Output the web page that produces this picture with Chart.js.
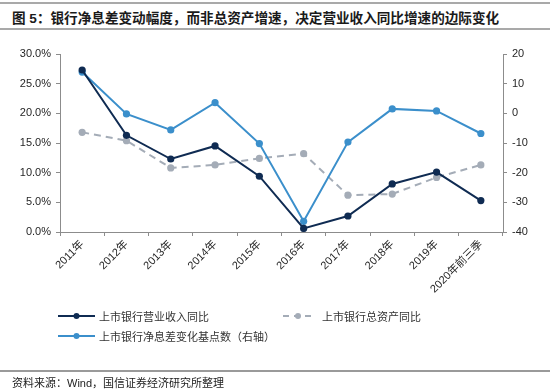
<!DOCTYPE html>
<html><head><meta charset="utf-8">
<script src="https://cdn.jsdelivr.net/npm/chart.js@4.4.1/dist/chart.umd.min.js"></script>
<style>
html,body{margin:0;padding:0;background:#fff;}
#wrap{position:relative;width:550px;height:392px;overflow:hidden;font-family:'Liberation Sans',Arial,'Noto Sans CJK SC',sans-serif;}
.rule{position:absolute;left:0;width:550px;background:#a9a9a9;}
#title{position:absolute;left:12px;top:7px;font-size:13.6px;font-weight:bold;color:#1a1a1a;white-space:nowrap;font-family:'Liberation Sans','Noto Sans CJK SC',sans-serif;}
#footer{position:absolute;left:12px;top:374px;font-size:11px;color:#222;white-space:nowrap;font-family:'Liberation Sans','Noto Sans CJK SC',sans-serif;}
.leg{position:absolute;font-size:11px;color:#333;white-space:nowrap;font-family:'Noto Sans CJK SC',sans-serif;line-height:14px;}
.leg svg{position:absolute;left:0;top:0;}
.leg span{position:absolute;top:0;}
canvas{position:absolute;left:0;top:0;}
</style>
</head><body>
<div id="wrap">
  <div class="rule" style="top:2px;height:1.5px;"></div>
  <div id="title">图 5：银行净息差变动幅度，而非总资产增速，决定营业收入同比增速的边际变化</div>
  <div class="rule" style="top:28px;height:1.5px;"></div>
  <canvas id="c" width="550" height="392"></canvas>
  <div id="legend"></div>
  <div class="rule" style="top:370px;height:2px;background:#9a9a9a;"></div>
  <div id="footer">资料来源：Wind，国信证券经济研究所整理</div>
</div>
<script>
// ---- data ----
const categories = ['2011年','2012年','2013年','2014年','2015年','2016年','2017年','2018年','2019年','2020年前三季'];
const revenueYoY = [27.3, 16.3, 12.3, 14.5, 9.4, 0.6, 2.7, 8.1, 10.1, 5.3];
const assetsYoY  = [16.8, 15.4, 10.8, 11.3, 12.4, 13.2, 6.2, 6.4, 9.2, 11.3];
const nimChangeBp = [13.9, -0.2, -5.6, 3.6, -10.2, -36.4, -9.7, 1.5, 0.8, -6.8];
const leftTicks = [0, 5, 10, 15, 20, 25, 30];
const rightTicks = [-40, -30, -20, -10, 0, 10, 20];
const seriesNames = ['上市银行营业收入同比', '上市银行总资产同比', '上市银行净息差变化基点数（右轴）'];

const navy = '#0f2b52', gray = '#a4acb7', blue = '#3b8fcb';
const axisColor = '#8c8c8c', textColor = '#262626';

Chart.defaults.font.family = "'Liberation Sans', Arial, 'Noto Sans CJK SC', sans-serif";
Chart.defaults.font.size = 11;
Chart.defaults.color = textColor;

new Chart(document.getElementById('c'), {
  type: 'line',
  data: {
    labels: categories,
    datasets: [
      {label: seriesNames[0], data: revenueYoY, yAxisID: 'y', borderColor: navy, backgroundColor: navy,
       borderWidth: 2, pointRadius: 3.6, pointBackgroundColor: navy, pointBorderWidth: 0, tension: 0, order: 1},
      {label: seriesNames[1], data: assetsYoY, yAxisID: 'y', borderColor: gray, backgroundColor: gray,
       borderWidth: 2, borderDash: [7, 5], pointRadius: 3.6, pointBackgroundColor: gray, pointBorderWidth: 0, tension: 0, order: 3},
      {label: seriesNames[2], data: nimChangeBp, yAxisID: 'y1', borderColor: blue, backgroundColor: blue,
       borderWidth: 2, pointRadius: 3.6, pointBackgroundColor: blue, pointBorderWidth: 0, tension: 0, order: 2}
    ]
  },
  options: {
    responsive: false,
    animation: false,
    devicePixelRatio: 1,
    layout: {padding: {top: 54, bottom: 92, left: 0, right: 0}},
    plugins: {legend: {display: false}, tooltip: {enabled: false}, title: {display: false}},
    scales: {
      x: {
        type: 'category',
        offset: true,
        grid: {display: true, drawOnChartArea: false, drawTicks: true, tickLength: 4, offset: true, color: axisColor},
        border: {display: true, color: axisColor, width: 1},
        ticks: {minRotation: 45, maxRotation: 45, padding: 2, color: textColor, font: {size: 11}},
        afterFit: s => { s.height = 68; }
      },
      y: {
        position: 'left', min: 0, max: 30,
        afterBuildTicks: s => { s.ticks = leftTicks.map(v => ({value: v})); },
        grid: {display: true, drawOnChartArea: false, drawTicks: true, tickLength: 4, color: axisColor},
        border: {display: true, color: axisColor, width: 1},
        ticks: {padding: 5, color: textColor, callback: v => v.toFixed(1) + '%'},
        afterFit: s => { s.width = 60; }
      },
      y1: {
        position: 'right', min: -40, max: 20,
        afterBuildTicks: s => { s.ticks = rightTicks.map(v => ({value: v})); },
        grid: {display: true, drawOnChartArea: false, drawTicks: true, tickLength: 4, color: axisColor},
        border: {display: true, color: axisColor, width: 1},
        ticks: {padding: 5, color: textColor, callback: v => String(v)},
        afterFit: s => { s.width = 47; }
      }
    }
  }
});

// ---- legend (HTML) ----
const legendItems = [
  {name: seriesNames[0], color: navy, dash: '', x: 58, y: 309, w: 37},
  {name: seriesNames[1], color: gray, dash: '6,5', x: 283, y: 309, w: 30},
  {name: seriesNames[2], color: blue, dash: '', x: 58, y: 329, w: 37}
];
const legend = document.getElementById('legend');
legendItems.forEach(it => {
  const d = document.createElement('div');
  d.className = 'leg';
  d.style.left = it.x + 'px';
  d.style.top = it.y + 'px';
  d.style.width = '260px';
  d.style.height = '14px';
  const cx = it.w / 2;
  d.innerHTML = `<svg width="${it.w}" height="14"><line x1="0" y1="7" x2="${it.w}" y2="7" stroke="${it.color}" stroke-width="2" ${it.dash ? 'stroke-dasharray="' + it.dash + '"' : ''}/><circle cx="${cx}" cy="7" r="3" fill="${it.color}"/></svg><span style="left:${it.w + (it.dash ? 9 : 4)}px">${it.name}</span>`;
  legend.appendChild(d);
});
</script>
</body></html>
